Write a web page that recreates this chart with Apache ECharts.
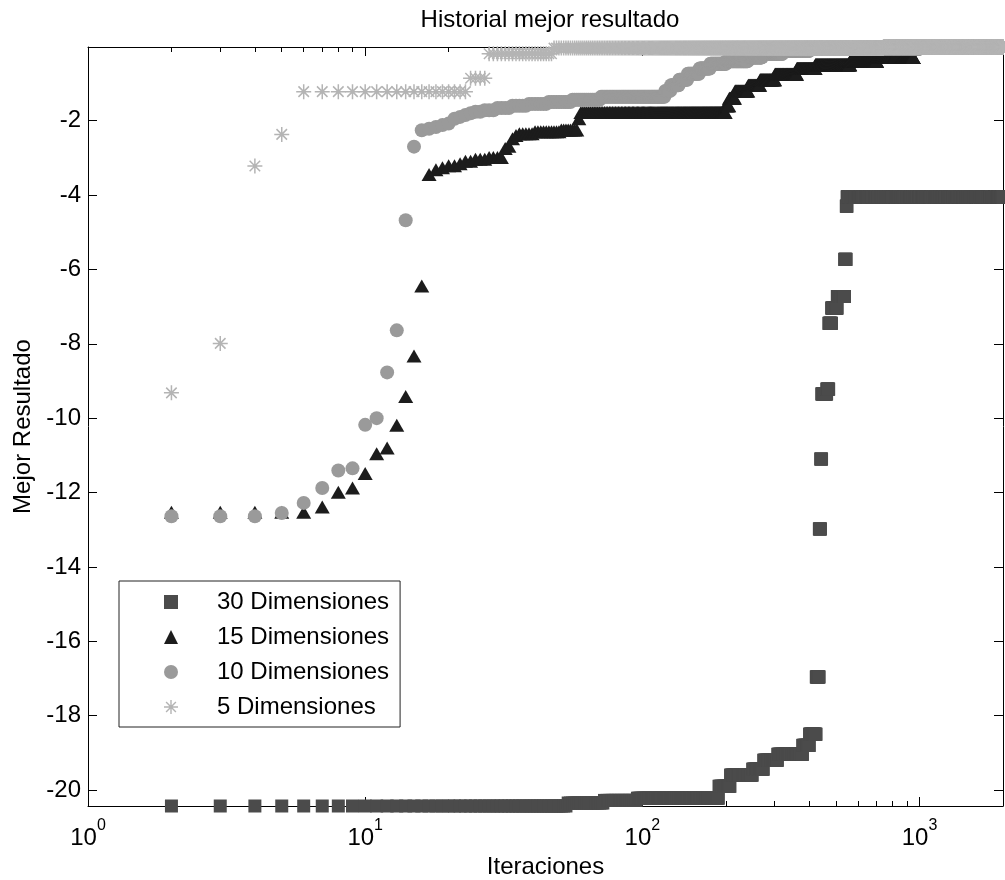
<!DOCTYPE html>
<html>
<head>
<meta charset="utf-8">
<script src="https://cdn.jsdelivr.net/npm/echarts@6/dist/echarts.min.js"></script>
<style>
  html, body { margin: 0; padding: 0; background: #ffffff; }
  #chart { width: 1005px; height: 880px; }
</style>
</head>
<body>
<div id="chart"></div>
<script>
// Best-so-far history of each run, as [firstIteration, lastIteration, value]:
// the best value holds unchanged from firstIteration to lastIteration.
const dim30Runs = [
  [2, 53, -20.43], [54, 72, -20.35], [73, 95, -20.28], [96, 188, -20.22],
  [189, 207, -19.9], [208, 249, -19.6], [250, 273, -19.44], [274, 307, -19.2],
  [308, 378, -19.04], [379, 400, -18.8], [401, 423, -18.5], [424, 434, -16.96],
  [435, 439, -12.98], [440, 443, -11.1], [444, 462, -9.35], [463, 470, -9.22],
  [471, 481, -7.45], [482, 504, -7.04], [505, 536, -6.73], [537, 543, -5.73],
  [544, 547, -4.3], [548, 2000, -4.05]
];
const dim15Runs = [
  [2, 6, -12.53], [7, 7, -12.39], [8, 8, -11.99], [9, 9, -11.88], [10, 10, -11.49],
  [11, 11, -10.96], [12, 12, -10.8], [13, 13, -10.19], [14, 14, -9.42], [15, 15, -8.33],
  [16, 16, -6.45], [17, 17, -3.45], [18, 18, -3.32], [19, 19, -3.27], [20, 21, -3.21],
  [22, 22, -3.16], [23, 24, -3.09], [25, 27, -3.04], [28, 31, -2.99], [32, 32, -2.75],
  [33, 33, -2.69], [34, 34, -2.49], [35, 35, -2.4], [36, 40, -2.35], [41, 50, -2.3],
  [51, 58, -2.25], [59, 59, -1.95], [60, 199, -1.78], [200, 205, -1.6], [206, 215, -1.4],
  [216, 240, -1.2], [241, 265, -1.05], [266, 300, -0.9], [301, 360, -0.75],
  [361, 420, -0.6], [421, 560, -0.5], [561, 700, -0.4], [701, 950, -0.3]
];
const dim10Runs = [
  [2, 4, -12.64], [5, 5, -12.55], [6, 6, -12.28], [7, 7, -11.88], [8, 8, -11.41],
  [9, 9, -11.35], [10, 10, -10.18], [11, 11, -10.0], [12, 12, -8.77], [13, 13, -7.64],
  [14, 14, -4.68], [15, 15, -2.7], [16, 16, -2.26], [17, 17, -2.22], [18, 18, -2.17],
  [19, 19, -2.12], [20, 20, -2.08], [21, 21, -1.95], [22, 22, -1.9], [23, 23, -1.85],
  [24, 24, -1.8], [25, 26, -1.76], [27, 29, -1.72], [30, 33, -1.66], [34, 38, -1.6],
  [39, 45, -1.55], [46, 55, -1.5], [56, 70, -1.44], [71, 120, -1.36], [121, 126, -1.2],
  [127, 135, -1.05], [136, 145, -0.9], [146, 160, -0.74], [161, 175, -0.6],
  [176, 200, -0.47], [201, 240, -0.4], [241, 270, -0.3], [271, 320, -0.2],
  [321, 400, -0.12], [401, 1000, -0.06]
];
const dim5Runs = [
  [2, 2, -9.32], [3, 3, -7.99], [4, 4, -3.22], [5, 5, -2.37], [6, 23, -1.22],
  [24, 27, -0.86], [28, 47, -0.2], [48, 740, -0.05], [741, 2000, -0.02]
];

const seriesNames = ['30 Dimensiones', '15 Dimensiones', '10 Dimensiones', '5 Dimensiones'];
const xMajorTicks = [1, 10, 100, 1000];
const xMinorTicks = [2, 3, 4, 5, 6, 7, 8, 9, 20, 30, 40, 50, 60, 70, 80, 90,
                     200, 300, 400, 500, 600, 700, 800, 900];
const yTicks = [-20, -18, -16, -14, -12, -10, -8, -6, -4, -2];
const xRange = [1, 2000];

// One point per iteration
function expandRuns(runs) {
  const pts = [];
  runs.forEach(function (r) {
    for (let it = r[0]; it <= r[1]; it++) pts.push([it, r[2]]);
  });
  return pts;
}

const data30 = expandRuns(dim30Runs);
const data15 = expandRuns(dim15Runs);
const data10 = expandRuns(dim10Runs);
const data5 = expandRuns(dim5Runs);

// Tight y limits taken from the data
const allValues = [].concat(data30, data15, data10, data5).map(function (p) { return p[1]; });
const yMin = Math.min.apply(null, allValues);
const yMax = Math.max.apply(null, allValues);

const FONT = '"Liberation Sans", Arial, Helvetica, sans-serif';
const INK = '#000000';

// Eight-armed asterisk marker
const asteriskPath = 'path://M0,45L100,45L100,55L0,55Z' +
  'M45,0L55,0L55,100L45,100Z' +
  'M18.54,11.46L88.54,81.46L81.46,88.54L11.46,18.54Z' +
  'M81.46,11.46L88.54,18.54L18.54,88.54L11.46,81.46Z';

const baseX = {
  type: 'log', logBase: 10, min: xRange[0], max: xRange[1],
  splitLine: { show: false }, minorTick: { show: false }, minorSplitLine: { show: false }
};
const lineOn = { show: true, onZero: false, lineStyle: { color: INK, width: 1 } };

const baseY = {
  type: 'value', min: yMin, max: yMax, scale: true,
  splitLine: { show: false }
};

function scatter(name, data, symbol, size, color) {
  return {
    name: name, type: 'scatter', data: data,
    symbol: symbol, symbolSize: size,
    itemStyle: { color: color, opacity: 1 },
    clip: false, silent: true, animation: false,
    progressive: 0, large: false
  };
}

const chart = echarts.init(document.getElementById('chart'), null, { renderer: 'canvas' });
chart.setOption({
  backgroundColor: '#ffffff',
  animation: false,
  title: {
    text: 'Historial mejor resultado',
    left: 545, top: 3, textAlign: 'center',
    textStyle: { fontFamily: FONT, fontSize: 24, fontWeight: 'normal', color: INK }
  },
  grid: { left: 88, right: 2, top: 47, bottom: 74, containLabel: false, outerBoundsMode: 'none' },
  legend: {
    orient: 'vertical', left: 119, top: 581,
    padding: [7, 11, 6, 45], itemGap: 7,
    itemWidth: 14, itemHeight: 14, symbolKeepAspect: true,
    borderColor: '#222222', borderWidth: 1, backgroundColor: '#ffffff',
    selectedMode: false,
    textStyle: { fontFamily: FONT, fontSize: 24, lineHeight: 28, color: INK, padding: [0, 0, 0, 34] },
    data: seriesNames
  },
  xAxis: [
    Object.assign({}, baseX, {
      position: 'bottom', axisLine: lineOn,
      axisTick: { show: true, inside: true, length: 9, customValues: xMajorTicks, lineStyle: { color: INK } },
      axisLabel: {
        show: true, customValues: xMajorTicks, margin: 12,
        formatter: function (v) { return '{b|10}{s|' + Math.round(Math.log10(v)) + '}'; },
        rich: {
          b: { fontFamily: FONT, fontSize: 24, color: INK, lineHeight: 32, verticalAlign: 'bottom' },
          s: { fontFamily: FONT, fontSize: 16, color: INK, lineHeight: 16, verticalAlign: 'top' }
        }
      },
      name: 'Iteraciones', nameLocation: 'middle', nameGap: 48,
      nameTextStyle: { fontFamily: FONT, fontSize: 24, color: INK }
    }),
    Object.assign({}, baseX, {
      position: 'bottom', axisLine: { show: false },
      axisTick: { show: true, inside: true, length: 5, customValues: xMinorTicks, lineStyle: { color: INK } },
      axisLabel: { show: false }
    }),
    Object.assign({}, baseX, {
      position: 'top', axisLine: lineOn,
      axisTick: { show: true, inside: true, length: 9, customValues: xMajorTicks, lineStyle: { color: INK } },
      axisLabel: { show: false }
    }),
    Object.assign({}, baseX, {
      position: 'top', axisLine: { show: false },
      axisTick: { show: true, inside: true, length: 5, customValues: xMinorTicks, lineStyle: { color: INK } },
      axisLabel: { show: false }
    })
  ],
  yAxis: [
    Object.assign({}, baseY, {
      position: 'left', axisLine: lineOn,
      axisTick: { show: true, inside: true, length: 9, customValues: yTicks, lineStyle: { color: INK } },
      axisLabel: { show: true, customValues: yTicks, margin: 7, fontFamily: FONT, fontSize: 24, color: INK },
      name: 'Mejor Resultado', nameLocation: 'middle', nameRotate: 90, nameGap: 49,
      nameTextStyle: { fontFamily: FONT, fontSize: 24, color: INK }
    }),
    Object.assign({}, baseY, {
      position: 'right', axisLine: lineOn,
      axisTick: { show: true, inside: true, length: 9, customValues: yTicks, lineStyle: { color: INK } },
      axisLabel: { show: false }
    })
  ],
  series: [
    scatter(seriesNames[0], data30, 'rect', 13, '#4b4b4b'),
    scatter(seriesNames[1], data15, 'triangle', [15, 13], '#1c1c1c'),
    scatter(seriesNames[2], data10, 'circle', 14, '#9a9a9a'),
    scatter(seriesNames[3], data5, asteriskPath, 15, '#b4b4b4')
  ]
});
</script>
</body>
</html>
